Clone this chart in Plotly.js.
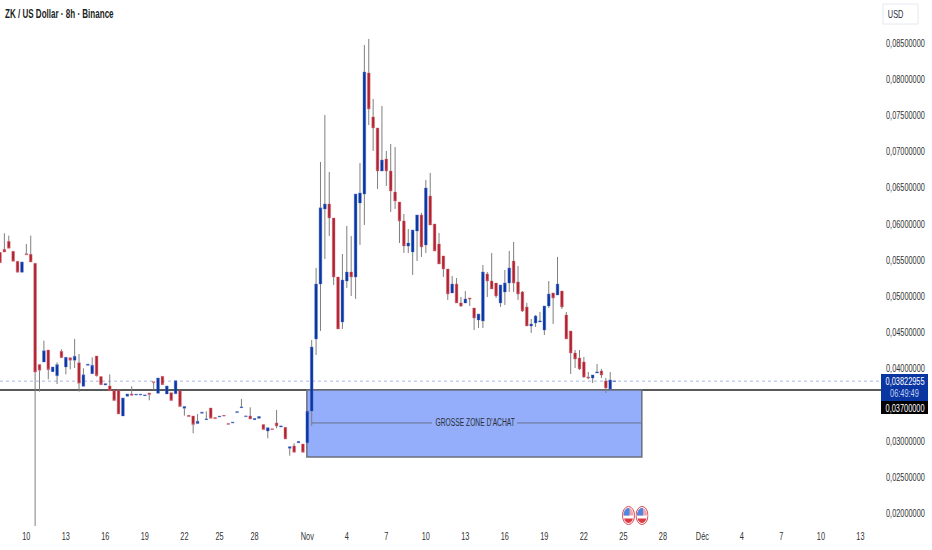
<!DOCTYPE html>
<html>
<head>
<meta charset="utf-8">
<script src="https://cdn.plot.ly/plotly-3.0.1.min.js"></script>
<style>html,body{margin:0;padding:0;background:#fff}</style>
</head>
<body>
<div id="chart" style="width:932px;height:550px"></div>
<script>
// ZK / USD 8h candles
const opens = [
0.05605,0.05647,0.05757,0.05619,0.05481,0.05329,0.05587,0.05578,0.05453,0.04052,
0.04088,0.04254,0.03955,0.03899,0.04236,0.04019,0.04148,0.04112,0.04079,0.03752,
0.04042,0.03927,0.04171,0.03886,0.03770,0.03757,0.03692,0.03701,0.03342,0.03614,
0.03646,0.03632,0.03632,0.03623,0.03660,0.03816,0.03655,0.03890,0.03646,0.03664,
0.03650,0.03687,0.03448,0.03351,0.03342,0.03236,0.03379,0.03291,0.03452,0.03319,
0.03328,0.03351,0.03236,0.03245,0.03388,0.03457,0.03333,0.03342,0.03291,0.03309,
0.03222,0.03134,0.03166,0.03245,0.03189,0.03185,0.02894,0.02927,0.02973,0.02954,
0.02973,0.03410,0.04407,0.05167,0.06205,0.06274,0.06080,0.05264,0.04642,0.05209,
0.05333,0.05264,0.06288,0.06412,0.08086,0.07477,0.07325,0.06730,0.06896,0.06730,
0.06440,0.06301,0.06039,0.05693,0.05610,0.05900,0.06122,0.05707,0.06384,0.05997,
0.05721,0.05555,0.05375,0.05043,0.05167,0.04905,0.04905,0.04974,0.04835,0.04670,
0.04656,0.05306,0.05209,0.05181,0.04905,0.05057,0.05181,0.05485,0.05195,0.05057,
0.04849,0.04586,0.04628,0.04642,0.04531,0.04863,0.05043,0.05015,0.05070,0.04739,
0.04517,0.04213,0.04144,0.04089,0.03881,0.03867,0.03936,0.03964,0.03826,0.03715,
0.03820];
const highs = [
0.05605,0.05868,0.05836,0.05619,0.05481,0.05472,0.05721,0.05836,0.05453,0.04052,
0.04383,0.04254,0.04019,0.04084,0.04264,0.04153,0.04148,0.04407,0.04199,0.04001,
0.04056,0.04153,0.04171,0.03886,0.03789,0.03918,0.03692,0.03701,0.03591,0.03646,
0.03752,0.03641,0.03641,0.03632,0.03660,0.03816,0.03867,0.03890,0.03757,0.03664,
0.03830,0.03687,0.03471,0.03351,0.03342,0.03369,0.03392,0.03406,0.03452,0.03319,
0.03337,0.03351,0.03236,0.03254,0.03401,0.03577,0.03342,0.03461,0.03305,0.03333,
0.03222,0.03180,0.03166,0.03425,0.03203,0.03185,0.02917,0.02964,0.02987,0.02954,
0.03406,0.04393,0.05389,0.06855,0.07505,0.06716,0.06080,0.05264,0.05582,0.05970,
0.05831,0.06412,0.06841,0.08473,0.08556,0.07726,0.07325,0.07629,0.07007,0.07104,
0.07062,0.06301,0.06135,0.05928,0.05914,0.06122,0.06150,0.06606,0.06703,0.05997,
0.05873,0.05555,0.05375,0.05278,0.05250,0.04987,0.05070,0.04974,0.04835,0.04752,
0.05430,0.05333,0.05596,0.05181,0.05154,0.05361,0.05624,0.05748,0.05416,0.05070,
0.04905,0.04683,0.04739,0.04780,0.04863,0.05209,0.05043,0.05541,0.05070,0.04780,
0.04517,0.04254,0.04254,0.04158,0.03950,0.03909,0.04061,0.03992,0.03867,0.03950,
0.03826];
const lows = [
0.05462,0.05610,0.05661,0.05481,0.05329,0.05329,0.05573,0.05472,0.01820,0.03678,
0.04088,0.03849,0.03955,0.03784,0.04148,0.03918,0.03987,0.04005,0.03678,0.03752,
0.04042,0.03927,0.03886,0.03775,0.03770,0.03692,0.03554,0.03369,0.03342,0.03614,
0.03627,0.03632,0.03632,0.03623,0.03558,0.03701,0.03655,0.03775,0.03646,0.03554,
0.03650,0.03471,0.03346,0.03333,0.03102,0.03236,0.03379,0.03291,0.03309,0.03305,
0.03328,0.03342,0.03226,0.03245,0.03388,0.03457,0.03333,0.03300,0.03291,0.03309,
0.03153,0.03033,0.03153,0.03171,0.03189,0.03024,0.02793,0.02839,0.02973,0.02839,
0.02973,0.03203,0.04185,0.04517,0.05513,0.05831,0.05154,0.04545,0.04545,0.05112,
0.05001,0.04960,0.05707,0.05983,0.07366,0.07007,0.06481,0.06730,0.06523,0.06163,
0.06205,0.05734,0.05596,0.05596,0.05292,0.05485,0.05541,0.05596,0.05983,0.05624,
0.05444,0.05264,0.04946,0.05043,0.04905,0.04849,0.04905,0.04863,0.04531,0.04559,
0.04559,0.04987,0.05098,0.04974,0.04849,0.04877,0.05057,0.05057,0.04946,0.04780,
0.04586,0.04490,0.04573,0.04642,0.04462,0.04835,0.04614,0.05015,0.04821,0.04407,
0.03923,0.04006,0.03978,0.03867,0.03850,0.03798,0.03936,0.03867,0.03660,0.03715,
0.03820];
const closes = [
0.05462,0.05610,0.05661,0.05481,0.05329,0.05472,0.05573,0.05472,0.03950,0.03973,
0.04245,0.03982,0.04019,0.04052,0.04148,0.04153,0.04112,0.04167,0.03793,0.03913,
0.04056,0.04042,0.03899,0.03775,0.03789,0.03692,0.03554,0.03369,0.03591,0.03646,
0.03627,0.03641,0.03641,0.03632,0.03637,0.03803,0.03867,0.03775,0.03757,0.03554,
0.03830,0.03471,0.03471,0.03333,0.03222,0.03268,0.03392,0.03300,0.03309,0.03305,
0.03337,0.03342,0.03226,0.03254,0.03401,0.03466,0.03342,0.03300,0.03305,0.03333,
0.03153,0.03180,0.03153,0.03203,0.03203,0.03024,0.02917,0.02839,0.02987,0.02839,
0.03406,0.04296,0.05167,0.06220,0.06274,0.06080,0.05264,0.04545,0.05223,0.05333,
0.05264,0.06412,0.06426,0.08100,0.07588,0.07325,0.06730,0.06882,0.06730,0.06454,
0.06315,0.06039,0.05693,0.05734,0.05914,0.06122,0.05679,0.06495,0.05983,0.05624,
0.05444,0.05375,0.05029,0.05167,0.04905,0.04863,0.04960,0.04960,0.04697,0.04752,
0.05333,0.05209,0.05098,0.05001,0.05154,0.05181,0.05389,0.05181,0.05029,0.04794,
0.04586,0.04614,0.04725,0.04656,0.04863,0.05029,0.04974,0.05167,0.04849,0.04407,
0.04213,0.04130,0.03992,0.03881,0.03867,0.03909,0.03950,0.03909,0.03729,0.03840,
0.03823];

const tickPos = [6,15,24,33,42,50,58,70,79,88,97,106,115,124,133,142,151,160,169,178,187,196];
const tickText = ['10','13','16','19','22','25','28','Nov','4','7','10','13','16','19','22','25','28','Déc','4','7','10','13'];

const lastPrice = 0.03822955;
const buyTop = 0.037;
const buyBottom = 0.02775;
const buyMid = 0.03245;
const priceTicks = [0.02,0.025,0.03,0.04,0.045,0.05,0.055,0.06,0.065,0.07,0.075,0.08,0.085];

const UP = '#0a36a2';
const DOWN = '#b02432';
const FONT = '"Liberation Sans", Arial, sans-serif';
const SQUEEZE = 0.67; // the reference type is much narrower than any installed face

const W = 932, H = 550, R = 50, B = 23;
const plotW = W - R, plotH = H - B;
// decorations outside the price scale are placed in paper units
const px = x => x / plotW;
const py = y => 1 - y / plotH;

const idx = opens.map((_, i) => i);
const wickX = [], wickY = [];
idx.forEach(i => {
  // scatter draws over candlesticks, so the wick stops at the body
  wickX.push(i, i, null, i, i, null);
  wickY.push(lows[i], Math.min(opens[i], closes[i]), null, Math.max(opens[i], closes[i]), highs[i], null);
});

const traces = [
  {
    type: 'scatter', mode: 'lines', x: wickX, y: wickY,
    line: { color: '#7f7f7f', width: 1 }, hoverinfo: 'skip', showlegend: false
  },
  {
    type: 'candlestick', x: idx, open: opens, close: closes,
    high: idx.map(i => Math.max(opens[i], closes[i])),
    low: idx.map(i => Math.min(opens[i], closes[i])),
    increasing: { line: { color: 'rgba(70,105,200,0.4)', width: 1 }, fillcolor: UP },
    decreasing: { line: { color: 'rgba(215,110,125,0.45)', width: 1 }, fillcolor: DOWN },
    whiskerwidth: 0, showlegend: false
  }
];

const flag = 'data:image/svg+xml;utf8,' + encodeURIComponent(
  '<svg xmlns="http://www.w3.org/2000/svg" width="26" height="38" viewBox="0 0 26 38">' +
  '<defs><clipPath id="c"><ellipse cx="13" cy="19" rx="10" ry="15"/></clipPath></defs>' +
  '<ellipse cx="13" cy="19" rx="12" ry="18" fill="#fff" stroke="#d9434e" stroke-width="2"/>' +
  '<g clip-path="url(#c)"><rect width="26" height="38" fill="#fff"/>' +
  '<rect x="0" y="4" width="26" height="15" fill="#f0a6ac"/>' +
  '<rect x="0" y="4" width="15" height="15" fill="#4f86e0"/>' +
  '<rect x="0" y="25" width="26" height="9" fill="#dd3a44"/></g></svg>');

const layout = {
  width: W, height: H,
  margin: { l: 0, r: R, t: 0, b: B, pad: 0 },
  paper_bgcolor: '#ffffff',
  plot_bgcolor: '#ffffff',
  separators: ', ',
  font: { family: FONT, size: 11, color: '#2a2e39' },
  showlegend: false,
  dragmode: false,
  boxmode: 'overlay',
  boxgap: 0.12,
  title: {
    text: '<b>ZK / US Dollar · 8h · Binance</b>',
    font: { family: FONT, size: 12, color: '#1c1f26' },
    x: 5 / W, xanchor: 'left', xref: 'container',
    y: 1 - 14 / H, yanchor: 'middle', yref: 'container'
  },
  xaxis: {
    type: 'linear', range: [0, plotW / 4.39],
    tickmode: 'array', tickvals: tickPos, ticktext: tickText,
    showgrid: false, zeroline: false, showline: false, ticks: '',
    tickfont: { family: FONT, size: 11, color: '#333' },
    ticklabelstandoff: 1,
    rangeslider: { visible: false }, fixedrange: true
  },
  yaxis: {
    side: 'right', range: [0.01806, 0.09095],
    tickmode: 'array', tickvals: priceTicks, tickformat: '.8f',
    showgrid: false, zeroline: false, showline: false, ticks: '',
    tickfont: { family: FONT, size: 11, color: '#333' },
    ticklabelstandoff: 3,
    fixedrange: true
  },
  shapes: [
    // buy zone
    { type: 'rect', layer: 'below', xref: 'x', yref: 'y', x0: 69.9, x1: 146.2, y0: buyBottom, y1: buyTop,
      fillcolor: '#94aefb', line: { color: '#6a6f7c', width: 1.5 } },
    { type: 'line', layer: 'below', xref: 'x', yref: 'y', x0: 71, x1: 98.4, y0: buyMid, y1: buyMid,
      line: { color: '#66708a', width: 1 } },
    { type: 'line', layer: 'below', xref: 'x', yref: 'y', x0: 117.8, x1: 146, y0: buyMid, y1: buyMid,
      line: { color: '#66708a', width: 1 } },
    // last price and level lines
    { type: 'line', layer: 'below', xref: 'paper', yref: 'y', x0: 0, x1: 1, y0: lastPrice, y1: lastPrice,
      line: { color: 'rgba(60,90,200,0.45)', width: 1, dash: 'dot' } },
    { type: 'line', layer: 'below', xref: 'paper', yref: 'y', x0: 0, x1: 1, y0: buyTop, y1: buyTop,
      line: { color: '#222', width: 1.5 } },
    // price tags on the scale
    { type: 'rect', layer: 'above', xref: 'paper', yref: 'paper', x0: px(881), x1: px(928), y0: py(401), y1: py(374),
      fillcolor: UP, line: { width: 0 } },
    { type: 'rect', layer: 'above', xref: 'paper', yref: 'paper', x0: px(881), x1: px(928), y0: py(414), y1: py(401),
      fillcolor: '#000', line: { width: 0 } },
    // USD button
    { type: 'rect', layer: 'above', xref: 'paper', yref: 'paper', x0: px(883), x1: px(918), y0: py(24), y1: py(4),
      fillcolor: '#fff', line: { color: '#e6e8ee', width: 1 } }
  ],
  annotations: [
    { xref: 'x', yref: 'y', x: 108.1, y: buyMid, text: "GROSSE ZONE D'ACHAT", showarrow: false, xanchor: 'center', yanchor: 'middle',
      font: { family: FONT, size: 10, color: '#2a2e39' } },
    { xref: 'paper', yref: 'paper', x: px(904.5), y: py(381), text: '0,03822955', showarrow: false, xanchor: 'center', yanchor: 'middle',
      font: { family: FONT, size: 11, color: '#fff' } },
    { xref: 'paper', yref: 'paper', x: px(904.5), y: py(393), text: '06:49:49', showarrow: false, xanchor: 'center', yanchor: 'middle',
      font: { family: FONT, size: 11, color: '#c6d3f5' } },
    { xref: 'paper', yref: 'paper', x: px(904.5), y: py(407.5), text: '0,03700000', showarrow: false, xanchor: 'center', yanchor: 'middle',
      font: { family: FONT, size: 11, color: '#fff' } },
    { xref: 'paper', yref: 'paper', x: px(895), y: py(13.5), text: 'USD', showarrow: false, xanchor: 'center', yanchor: 'middle',
      font: { family: FONT, size: 11, color: '#2a2e39' } }
  ],
  images: [
    { source: flag, xref: 'paper', yref: 'paper', x: px(622), y: py(506), sizex: 13 / plotW, sizey: 19 / plotH,
      xanchor: 'left', yanchor: 'top', sizing: 'stretch', layer: 'above' },
    { source: flag, xref: 'paper', yref: 'paper', x: px(635.5), y: py(506), sizex: 13 / plotW, sizey: 19 / plotH,
      xanchor: 'left', yanchor: 'top', sizing: 'stretch', layer: 'above' }
  ]
};

Plotly.newPlot('chart', traces, layout, { displayModeBar: false, staticPlot: true }).then(gd => {
  gd.querySelectorAll('svg text').forEach(t => {
    const len = t.getComputedTextLength();
    if (!len) return;
    t.setAttribute('textLength', (len * SQUEEZE).toFixed(1));
    t.setAttribute('lengthAdjust', 'spacingAndGlyphs');
  });
});
</script>
</body>
</html>
